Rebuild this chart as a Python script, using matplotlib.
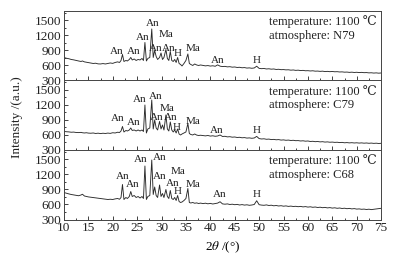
"""
XRD patterns, 1100 C, three atmospheres
"""

import matplotlib
matplotlib.use("Agg")
import matplotlib.pyplot as plt
from matplotlib.ticker import MultipleLocator

plt.rcParams["font.family"] = ["Liberation Serif", "DejaVu Serif", "DejaVu Sans"]
plt.rcParams["mathtext.fontset"] = "stix"

two_theta = [
    10.0, 10.5, 11.0, 11.5, 12.0, 12.5, 13.0, 13.5, 13.8, 14.2, 14.6, 15.0, 15.5,
    16.0, 16.5, 17.0, 17.5, 18.0, 18.5, 19.0, 19.5, 20.0, 20.5, 21.0, 21.4,
    21.7, 22.0, 22.3, 22.7, 23.0, 23.4, 23.7, 24.0, 24.4, 24.8, 25.2, 25.6, 26.0,
    26.3, 26.6, 26.9, 27.2, 27.6, 28.0, 28.3, 28.6, 28.9, 29.2, 29.6, 29.9, 30.2,
    30.5, 30.9, 31.2, 31.5, 31.8, 32.1, 32.4, 32.7, 33.0, 33.3, 33.6, 33.9, 34.2,
    34.6, 35.0, 35.4, 35.7, 36.0, 36.4, 36.8, 37.2, 37.6, 38.0,
    38.5, 39.0, 39.5, 40.0, 40.5, 41.0, 41.5, 42.0, 42.5, 43.0, 43.5, 44.0, 44.5,
    45.0, 45.5, 46.0, 46.5, 47.0, 47.5, 48.0, 48.5, 49.0, 49.5, 50.0, 50.5, 51.0,
    51.5, 52.0, 52.5, 53.0, 53.5, 54.0, 54.5, 55.0, 55.5, 56.0, 56.5, 57.0, 57.5,
    58.0, 58.5, 59.0, 59.5, 60.0, 60.5, 61.0, 61.5, 62.0, 62.5, 63.0, 63.5, 64.0,
    64.5, 65.0, 65.5, 66.0, 66.5, 67.0, 67.5, 68.0, 68.5, 69.0, 69.5, 70.0, 70.5,
    71.0, 71.5, 72.0, 72.5, 73.0, 73.5, 74.0, 74.5, 75.0,
]

int_n79 = [
    760, 745, 735, 720, 712, 700, 690, 680, 690, 672, 665, 660, 650,
    640, 645, 632, 630, 638, 630, 640, 650, 642, 660, 672, 660,
    700, 820, 680, 700, 690, 720, 760, 710, 730, 700, 720, 710, 740,
    700, 1060, 690, 740, 760, 1330, 760, 900, 780, 720, 760, 850, 720,
    760, 920, 740, 700, 880, 700, 680, 720, 660, 760, 640, 620, 590,
    640, 700, 830, 640, 620, 600, 630, 610, 600, 610,
    600, 592, 598, 588, 594, 584, 612, 586, 578, 582, 572, 576, 566,
    570, 560, 564, 554, 558, 548, 552, 544, 550, 585, 542, 536, 540,
    530, 534, 526, 530, 520, 524, 516, 518, 512, 514, 506, 510, 502,
    506, 498, 502, 494, 496, 490, 494, 486, 488, 482, 486, 478, 482,
    476, 480, 474, 476, 470, 472, 466, 468, 462, 466, 460, 464, 458,
    462, 456, 458, 452, 454, 448, 452, 446, 450,
]

int_c79 = [
    672, 665, 662, 655, 658, 650, 648, 652, 645, 640, 645, 638, 635,
    640, 630, 636, 628, 635, 630, 638, 632, 645, 640, 655, 650,
    680, 770, 660, 690, 680, 700, 740, 690, 700, 680, 700, 680, 700,
    670, 1200, 640, 720, 740, 1300, 720, 900, 740, 700, 870, 720, 800,
    700, 1000, 720, 680, 860, 700, 660, 700, 640, 720, 620, 600, 620,
    640, 660, 830, 630, 610, 600, 620, 598, 590, 595,
    588, 582, 590, 578, 584, 574, 580, 600, 570, 574, 562, 566, 556,
    560, 550, 554, 544, 548, 538, 542, 534, 540, 572, 528, 520, 524,
    514, 518, 508, 512, 504, 508, 498, 502, 494, 498, 490, 494, 486,
    488, 480, 484, 476, 480, 470, 474, 466, 470, 462, 466, 458, 462,
    455, 458, 452, 455, 448, 452, 444, 448, 442, 446, 440, 444, 438,
    442, 436, 440, 434, 438, 432, 436, 430, 434,
]

int_c68 = [
    840, 825, 812, 800, 792, 785, 775, 790, 805, 770, 760, 752, 745,
    738, 730, 726, 720, 715, 710, 700, 705, 700, 712, 720, 705,
    740, 1000, 700, 740, 720, 760, 860, 760, 780, 740, 760, 730, 760,
    720, 1370, 700, 760, 780, 1490, 800, 950, 780, 740, 990, 760, 820,
    740, 900, 760, 720, 880, 720, 700, 740, 680, 780, 660, 640, 650,
    680, 720, 920, 640, 630, 640, 625, 632, 620, 628,
    618, 626, 614, 622, 610, 618, 628, 655, 612, 606, 612, 600, 606,
    596, 602, 590, 598, 588, 594, 584, 590, 600, 675, 596, 588, 584,
    592, 580, 586, 574, 580, 570, 576, 566, 572, 562, 568, 560, 564,
    556, 562, 552, 558, 548, 554, 544, 550, 540, 546, 536, 542, 532,
    538, 528, 534, 524, 530, 520, 526, 516, 522, 512, 518, 508, 512,
    504, 508, 500, 506, 498, 504, 510, 516, 524,
]

panel_data = [int_n79, int_c79, int_c68]
atmospheres = ["N79", "C79", "C68"]

# peak labels: (text, 2theta, intensity)
labels_n79 = [
    ("An", 20.9, 886), ("An", 24.4, 886), ("An", 26.05, 1152), ("An", 28.1, 1432),
    ("Ma", 31.0, 1220), ("An", 28.8, 930), ("An", 31.4, 930), ("H", 33.4, 832),
    ("Ma", 36.5, 935), ("An", 41.6, 700), ("H", 49.4, 700),
]
labels_c79 = [
    ("An", 21.1, 934), ("An", 24.4, 840), ("An", 25.6, 1314), ("An", 28.8, 1376),
    ("Ma", 31.2, 1134), ("An", 29.1, 946), ("An", 31.9, 946), ("H", 33.1, 746),
    ("Ma", 36.5, 866), ("An", 41.3, 686), ("H", 49.4, 686),
]
labels_c68 = [
    ("An", 22.1, 1160), ("An", 24.15, 990), ("An", 25.7, 1490), ("An", 29.7, 1540),
    ("An", 29.7, 1156), ("Ma", 33.4, 1256), ("An", 32.2, 1024), ("H", 33.3, 856),
    ("Ma", 36.4, 1000), ("An", 42.0, 800), ("H", 49.5, 790),
]
panel_labels = [labels_n79, labels_c79, labels_c68]

fig, axes = plt.subplots(3, 1, sharex=True, figsize=(3.97, 2.61), dpi=100)
fig.subplots_adjust(left=0.161, right=0.960, top=0.958, bottom=0.159, hspace=0)

for ax, vals, atm, labs in zip(axes, panel_data, atmospheres, panel_labels):
    ax.plot(two_theta, vals, color="#2a2a2a", lw=0.65)
    ax.set_xlim(10, 75)
    ax.set_ylim(300, 1690)
    ax.yaxis.set_major_locator(MultipleLocator(300))
    ax.yaxis.set_minor_locator(MultipleLocator(150))
    ax.xaxis.set_major_locator(MultipleLocator(5))
    ax.xaxis.set_minor_locator(MultipleLocator(2.5))
    ax.tick_params(which="both", direction="in", labelsize=9.5, pad=2,
                   colors="#222222", width=0.6)
    ax.tick_params(which="major", length=3)
    ax.tick_params(which="minor", length=1.5)
    for sp in ax.spines.values():
        sp.set_linewidth(0.7)
        sp.set_color("#444444")
    for txt, x, y in labs:
        ax.text(x, y, txt, fontsize=8, ha="center", va="center", color="#222222")
    ax.text(0.645, 0.845, "temperature: 1100 \u2103", transform=ax.transAxes,
            fontsize=9, va="center", ha="left", color="#222222")
    ax.text(0.645, 0.645, "atmosphere: " + atm, transform=ax.transAxes,
            fontsize=9, va="center", ha="left", color="#222222")

axes[-1].set_xlabel(r"2$\theta$ /(°)", fontsize=9.5, labelpad=4)
fig.text(0.043, 0.55, "Intensity /(a.u.)", rotation=90, fontsize=9.5,
         ha="center", va="center", color="#222222")

fig.savefig("out.png", dpi=100)
